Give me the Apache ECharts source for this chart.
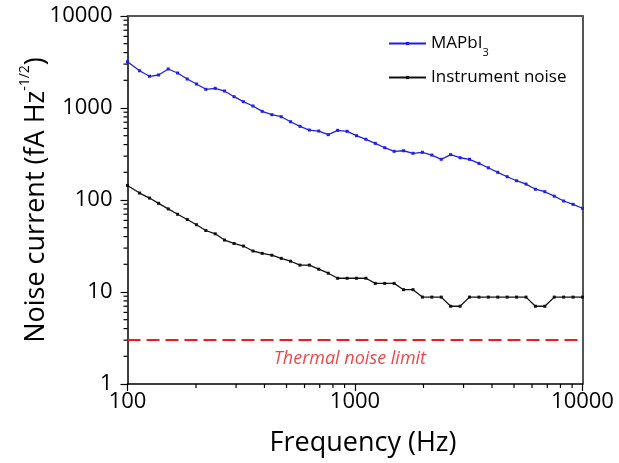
<!DOCTYPE html>
<html>
<head>
<meta charset="utf-8">
<script src="https://cdn.jsdelivr.net/npm/echarts@6/dist/echarts.min.js"></script>
<style>
html,body{margin:0;padding:0;background:#fff;}
#chart{width:619px;height:463px;}
</style>
</head>
<body>
<div id="chart"></div>
<script>
// Frequencies (Hz)
var freq = [100, 113, 125, 137, 151, 166, 183, 201, 221, 243, 267, 294, 323, 356, 391, 431, 474, 521, 573, 630,
  693, 763, 839, 923, 1015, 1117, 1228, 1351, 1486, 1635, 1799, 1978, 2176, 2394, 2633, 2897, 3186, 3505, 3855,
  4241, 4665, 5132, 5645, 6209, 6830, 7513, 8264, 9091, 10000];
// Noise current (fA Hz^-1/2)
var mapbi3 = [3186, 2542, 2212, 2285, 2655, 2400, 2065, 1823, 1597, 1637, 1530, 1327, 1171, 1051, 920, 845, 804, 709,
  632, 576, 562, 513, 572, 558, 500, 457, 413, 370, 338, 343, 322, 330, 308, 277, 311, 288, 277, 250, 224, 200, 179,
  162, 149, 131, 123, 110, 97.5, 89.7, 81.3];
var instrument = [144, 119, 105, 92, 80, 70, 61.4, 53.9, 46.6, 42.9, 36.7, 33.7, 31.6, 27.9, 26.3, 25.1, 23.2, 21.6,
  19.6, 19.6, 17.7, 16.0, 14.1, 14.1, 14.1, 14.1, 12.4, 12.4, 12.4, 10.6, 10.6, 8.8, 8.8, 8.8, 7.0, 7.0, 8.8, 8.8,
  8.8, 8.8, 8.8, 8.8, 8.8, 7.0, 7.0, 8.8, 8.8, 8.8, 8.8];
var thermalLimit = 3;
var thermalLabel = 'Thermal noise limit';
var thermalLabelPos = [950, 1.87];
var xRange = [100, 10000];
var yRange = [1, 10000];
var xMinorTicks = [200, 300, 400, 500, 600, 700, 800, 900, 2000, 3000, 4000, 5000, 6000, 7000, 8000, 9000];
var yMinorTicks = [2, 3, 4, 5, 6, 7, 8, 9, 20, 30, 40, 50, 60, 70, 80, 90, 200, 300, 400, 500, 600, 700, 800, 900,
  2000, 3000, 4000, 5000, 6000, 7000, 8000, 9000];
var seriesNames = ['MAPbI3', 'Instrument noise'];

var FONT = 'Open Sans';
var chart = echarts.init(document.getElementById('chart'), null, {renderer: 'canvas'});

function pairs(xs, ys) { return xs.map(function (x, i) { return [x, ys[i]]; }); }
function plain(v) { return String(v); }

var option = {
  backgroundColor: '#fff',
  animation: false,
  textStyle: {fontFamily: FONT},
  grid: {left: 127.5, right: 36.5, top: 16, bottom: 79, containLabel: false},
  legend: {
    data: seriesNames,
    orient: 'vertical',
    left: 388,
    top: 35,
    padding: 0,
    itemGap: 11,
    itemWidth: 37,
    itemHeight: 4,
    formatter: function (n) {
      return n === 'MAPbI3' ? '{t|MAPbI}{s|3}' : '{t|' + n + '}';
    },
    textStyle: {
      fontFamily: FONT, fontSize: 17, color: '#000',
      rich: {
        t: {fontFamily: FONT, fontSize: 17, color: '#000', lineHeight: 29},
        s: {fontFamily: FONT, fontSize: 11, color: '#000', verticalAlign: 'bottom', lineHeight: 11}
      }
    }
  },
  xAxis: [{
    type: 'log', logBase: 10, min: xRange[0], max: xRange[1],
    position: 'bottom',
    name: 'Frequency (Hz)', nameLocation: 'middle', nameGap: 46, nameMoveOverlap: false,
    nameTextStyle: {fontFamily: FONT, fontSize: 27, color: '#000', padding: [0, 0, 0, 16]},
    axisLine: {show: true, lineStyle: {color: '#000', width: 1.5}},
    axisTick: {show: true, length: 7, lineStyle: {color: '#000', width: 1.2}},
    axisLabel: {fontFamily: FONT, fontSize: 22, color: '#000', margin: 7, formatter: plain},
    splitLine: {show: false},
    minorTick: {show: false}
  }, {
    type: 'log', logBase: 10, min: xRange[0], max: xRange[1],
    position: 'top',
    axisLine: {show: true, lineStyle: {color: '#555', width: 2}},
    axisTick: {show: false}, axisLabel: {show: false}, splitLine: {show: false}
  }],
  yAxis: [{
    type: 'log', logBase: 10, min: yRange[0], max: yRange[1],
    position: 'left',
    name: '{t|Noise current (fA Hz}{s|-1/2}{t|)}',
    nameLocation: 'middle', nameRotate: 90, nameGap: 73, nameMoveOverlap: false,
    nameTextStyle: {
      fontFamily: FONT, fontSize: 27, color: '#000',
      rich: {
        t: {fontFamily: FONT, fontSize: 27, color: '#000', lineHeight: 36},
        s: {fontFamily: FONT, fontSize: 14, color: '#000', verticalAlign: 'top', lineHeight: 14}
      }
    },
    axisLine: {show: true, lineStyle: {color: '#000', width: 1.5}},
    axisTick: {show: true, length: 7, lineStyle: {color: '#000', width: 1.2}},
    axisLabel: {fontFamily: FONT, fontSize: 22, color: '#000', margin: 15, formatter: plain},
    splitLine: {show: false},
    minorTick: {show: false}
  }, {
    type: 'log', logBase: 10, min: yRange[0], max: yRange[1],
    position: 'right',
    axisLine: {show: true, lineStyle: {color: '#555', width: 2}},
    axisTick: {show: false}, axisLabel: {show: false}, splitLine: {show: false}
  }],
  series: [
    {
      name: seriesNames[0], type: 'line', data: pairs(freq, mapbi3),
      symbol: 'rect', symbolSize: 3, showAllSymbol: true,
      lineStyle: {color: '#1f1fe6', width: 1.3},
      itemStyle: {color: '#1f1fe6'},
      z: 5
    },
    {
      name: seriesNames[1], type: 'line', data: pairs(freq, instrument),
      symbol: 'rect', symbolSize: 3, showAllSymbol: true,
      lineStyle: {color: '#111', width: 1.3},
      itemStyle: {color: '#111'},
      z: 5
    },
    {
      name: 'thermal', type: 'line', data: [[xRange[0], thermalLimit], [xRange[1], thermalLimit]],
      symbol: 'none', silent: true,
      lineStyle: {color: '#ee1c1c', width: 2, type: [13, 6]},
      z: 4
    },
    {
      name: 'thermalLabel', type: 'scatter', data: [thermalLabelPos],
      symbolSize: 0, silent: true,
      label: {
        show: true, position: 'inside', formatter: thermalLabel,
        fontFamily: FONT, fontSize: 18, fontStyle: 'italic', color: '#e61919'
      }
    }
  ]
};
chart.setOption(option);

// minor ticks for the log axes, positioned through the chart's own scales
var minor = [];
xMinorTicks.forEach(function (v) {
  var p = chart.convertToPixel({xAxisIndex: 0, yAxisIndex: 0}, [v, yRange[0]]);
  minor.push({type: 'line', silent: true, z: 10,
    shape: {x1: p[0], y1: p[1], x2: p[0], y2: p[1] + 4},
    style: {stroke: '#000', lineWidth: 1.2}});
});
yMinorTicks.forEach(function (v) {
  var p = chart.convertToPixel({xAxisIndex: 0, yAxisIndex: 0}, [xRange[0], v]);
  minor.push({type: 'line', silent: true, z: 10,
    shape: {x1: p[0] - 4, y1: p[1], x2: p[0], y2: p[1]},
    style: {stroke: '#000', lineWidth: 1.2}});
});
chart.setOption({graphic: minor});
</script>
</body>
</html>
